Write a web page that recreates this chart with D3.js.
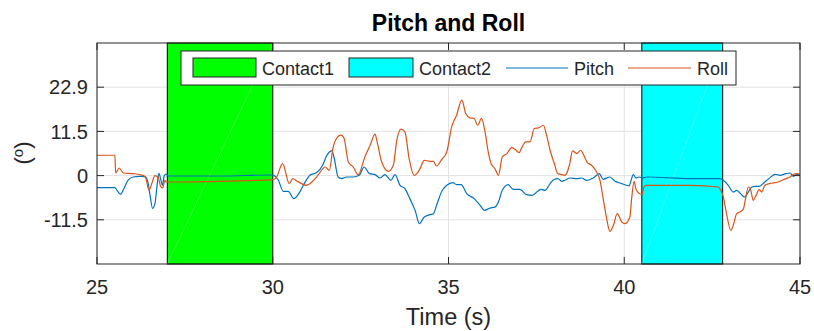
<!DOCTYPE html>
<html>
<head>
<meta charset="utf-8">
<script src="https://cdn.jsdelivr.net/npm/d3@7"></script>
<style>
  body { margin: 0; background: #fff; }
  text { font-family: "Liberation Sans", Arial, sans-serif; fill: #262626; }
</style>
</head>
<body>
<div id="chart"></div>
<script>
// pitch trace (time in s, angle in deg)
let pitchTime = [25.00, 25.51, 25.57, 25.67, 25.77, 25.88, 26.03, 26.22, 26.37, 26.45, 26.51, 26.58, 26.65, 26.71, 26.76, 26.82, 26.86, 26.91, 26.96, 27.03,
  28.50, 29.92, 30.02, 30.16, 30.30, 30.44, 30.60, 30.78, 30.87, 31.06, 31.25, 31.42, 31.53, 31.68, 31.74, 31.86, 31.96, 32.10, 32.29, 32.46,
  32.60, 32.75, 32.91, 33.05, 33.19, 33.36, 33.48, 33.62, 33.76, 33.90, 34.05, 34.17, 34.31, 34.47, 34.57, 34.66, 34.81, 34.95, 35.12, 35.23,
  35.36, 35.52, 35.73, 35.90, 36.02, 36.18, 36.32, 36.42, 36.53, 36.70, 36.84, 37.03, 37.22, 37.37, 37.54, 37.63, 37.75, 37.89, 38.01, 38.11,
  38.22, 38.31, 38.46, 38.65, 38.79, 38.93, 39.12, 39.29, 39.40, 39.59, 39.74, 39.93, 40.14, 40.18, 40.26, 40.33, 40.43, 40.52, 40.65, 41.87,
  42.72, 42.82, 42.96, 43.10, 43.20, 43.29, 43.42, 43.53, 43.63, 43.72, 43.84, 44.00, 44.15, 44.29, 44.43, 44.60, 44.72, 44.81, 44.92, 45.00]
let pitchVals = [-3.12, -3.12, -3.82, -4.86, -3.30, -1.22, -0.36, -0.18, -0.26, -1.74, -5.12, -8.49, -7.19, -2.52, 0.60, -1.22, -2.52, -0.18, 0.42, -0.10,
  -0.10, 0.16, 0.08, -1.22, -4.08, -4.08, -5.97, -4.08, -2.52, 0.08, 0.78, 2.68, 5.09, 6.39, 4.83, -0.36, -0.78, -0.36, -0.36, 0.08,
  2.23, 0.52, 0.26, -0.62, 0.26, -1.22, 0.26, -2.52, -3.38, -5.97, -9.01, -12.47, -10.75, -10.13, -9.87, -7.71, -4.08, -2.52, -1.82, -2.34,
  -2.34, -4.68, -5.97, -7.71, -9.01, -8.42, -8.16, -6.86, -3.82, -2.34, -3.56, -3.56, -4.94, -5.12, -4.08, -3.56, -3.82, -2.08, -0.96, -0.78,
  -1.48, -1.22, -0.62, -0.78, -0.62, -1.22, -0.62, 0.52, -0.96, -0.36, -1.48, -2.08, -2.70, -1.66, 0.26, -0.62, -0.36, -0.62, -0.36, -0.78,
  -0.78, -1.22, -2.52, -4.26, -3.82, -4.52, -5.56, -4.26, -2.96, -2.78, -2.78, -1.66, -0.52, 0.34, 0.08, 0.52, 0.68, -0.18, 0.34, 0.08]

// roll trace
let rollTime = [25.00, 25.51, 25.53, 25.63, 25.75, 26.03, 26.32, 26.39, 26.48, 26.56, 26.65, 26.74, 26.81, 26.87, 26.93, 26.96, 27.03, 28.50, 30.02, 30.11,
  30.28, 30.47, 30.57, 30.70, 30.82, 30.95, 31.06, 31.25, 31.34, 31.49, 31.61, 31.71, 31.80, 31.94, 32.03, 32.15, 32.29, 32.43, 32.62, 32.77,
  32.91, 32.97, 33.10, 33.29, 33.43, 33.53, 33.65, 33.76, 33.88, 34.02, 34.10, 34.19, 34.31, 34.47, 34.57, 34.66, 34.81, 34.95, 35.09, 35.23,
  35.38, 35.49, 35.61, 35.73, 35.83, 35.94, 36.04, 36.13, 36.21, 36.32, 36.42, 36.53, 36.66, 36.80, 36.89, 37.01, 37.08, 37.20, 37.32, 37.44,
  37.56, 37.70, 37.79, 37.89, 38.01, 38.11, 38.22, 38.31, 38.34, 38.44, 38.53, 38.65, 38.76, 38.85, 38.95, 39.07, 39.20, 39.31, 39.40, 39.50,
  39.59, 39.69, 39.80, 39.93, 40.02, 40.16, 40.21, 40.28, 40.33, 40.43, 40.50, 40.56, 40.62, 41.87, 42.67, 42.72, 42.82, 42.91, 43.03, 43.10,
  43.20, 43.29, 43.39, 43.46, 43.53, 43.60, 43.67, 43.75, 43.84, 43.91, 44.00, 44.13, 44.38, 44.60, 44.72, 44.81, 44.91, 45.00]
let rollVals = [5.27, 5.27, 0.68, 1.97, 0.68, 0.52, 0.00, -0.70, -3.82, -2.00, 0.00, -0.44, -2.78, -3.22, -1.22, -1.66, -1.66, -1.48, -1.04, -0.36,
  3.12, -2.08, -0.78, -1.48, -2.08, -2.52, -2.08, -0.36, 0.78, 2.23, 1.38, 7.01, 9.43, 10.47, 9.61, 3.53, 2.23, 0.26, 4.83, 7.87,
  10.73, 8.73, 3.53, 1.12, 2.68, 9.17, 12.03, 11.32, 4.42, 0.08, 0.52, 1.82, 3.97, 3.71, 3.71, 2.49, 4.23, 6.13, 12.62, 15.66,
  19.56, 16.10, 14.96, 14.81, 13.06, 14.81, 11.32, 6.13, 3.12, 1.82, 0.08, 4.83, 5.71, 7.27, 6.83, 5.97, 7.17, 8.73, 8.73, 12.21,
  12.36, 13.06, 10.47, 6.57, 3.12, 0.52, 0.26, 0.08, 0.26, 2.68, 6.39, 5.71, 6.57, 5.27, 3.38, 2.68, 1.12, -1.22, -5.97, -11.17,
  -14.47, -12.91, -9.87, -12.05, -12.47, -10.75, -5.97, -1.48, -3.38, -4.68, -4.94, -2.96, -2.52, -2.55, -2.95, -3.38, -5.56, -9.87, -14.21, -12.91,
  -9.87, -9.45, -8.57, -5.56, -2.96, -3.82, -6.42, -5.12, -3.64, -4.26, -2.52, -2.08, -1.66, -0.78, -0.36, 0.34, 0.52, 0.34]

// contact intervals
let contactNames = ["Contact1", "Contact2"]
let contactStart = [27.0, 40.5]
let contactEnd = [30.0, 42.8]
let contactColors = ["#00ff00", "#00ffff"]

let seriesNames = ["Pitch", "Roll"]
let seriesColors = ["#0072bd", "#d95319"]

let xTickVals = [25, 30, 35, 40, 45]
let yTickVals = [-11.459, 0, 11.459, 22.918]
let yLimits = [-22.918, 34.377]

let width = 814, height = 331
let margin = {left: 97, top: 43, right: 14, bottom: 67}
let plotW = width - margin.left - margin.right
let plotH = height - margin.top - margin.bottom

let svg = d3.select("#chart")
    .append("svg")
        .attr("width", width)
        .attr("height", height)

let g = svg.append("g")
    .attr("transform", `translate(${margin.left}, ${margin.top})`)

let x = d3.scaleLinear().domain([25, 45]).range([0, plotW])
let y = d3.scaleLinear().domain(yLimits).range([plotH, 0])

// grid
g.selectAll("line.gx").data(xTickVals).enter().append("line")
    .attr("x1", d => x(d)).attr("x2", d => x(d))
    .attr("y1", 0).attr("y2", plotH)
    .attr("stroke", "#e3e3e3").attr("stroke-width", 1)
g.selectAll("line.gy").data(yTickVals).enter().append("line")
    .attr("y1", d => y(d)).attr("y2", d => y(d))
    .attr("x1", 0).attr("x2", plotW)
    .attr("stroke", "#e3e3e3").attr("stroke-width", 1)

// contact patches
let contacts = contactNames.map((n, i) => ({name: n, s: contactStart[i], e: contactEnd[i], c: contactColors[i]}))
g.selectAll("rect.patch").data(contacts).enter().append("rect")
    .attr("x", d => x(d.s))
    .attr("width", d => x(d.e) - x(d.s))
    .attr("y", y(yLimits[1]))
    .attr("height", y(yLimits[0]) - y(yLimits[1]))
    .attr("fill", d => d.c)
    .attr("stroke", "#000")
    .attr("stroke-width", 1)
// faint seam the renderer leaves across each patch
g.selectAll("line.seam").data(contacts).enter().append("line")
    .attr("x1", d => x(d.s)).attr("y1", y(yLimits[0]))
    .attr("x2", d => x(d.e)).attr("y2", y(yLimits[1]))
    .attr("stroke", "#fff").attr("stroke-opacity", 0.35).attr("stroke-width", 0.6)

// lines
let line = d3.line()
    .x(d => x(d[0]))
    .y(d => y(d[1]))
    .curve(d3.curveMonotoneX)

let series = [
    d3.zip(pitchTime, pitchVals),
    d3.zip(rollTime, rollVals)
]
g.selectAll("path.trace").data(series).enter().append("path")
    .attr("d", line)
    .attr("fill", "none")
    .attr("stroke", (d, i) => seriesColors[i])
    .attr("stroke-width", 1.2)

// box and inward ticks
g.append("rect")
    .attr("x", 0).attr("y", 0)
    .attr("width", plotW).attr("height", plotH)
    .attr("fill", "none").attr("stroke", "#262626").attr("stroke-width", 1)

let tickLen = 7
xTickVals.forEach(function(t) {
    g.append("line").attr("x1", x(t)).attr("x2", x(t)).attr("y1", plotH).attr("y2", plotH - tickLen).attr("stroke", "#262626")
    g.append("line").attr("x1", x(t)).attr("x2", x(t)).attr("y1", 0).attr("y2", tickLen).attr("stroke", "#262626")
})
yTickVals.forEach(function(t) {
    g.append("line").attr("y1", y(t)).attr("y2", y(t)).attr("x1", 0).attr("x2", tickLen).attr("stroke", "#262626")
    g.append("line").attr("y1", y(t)).attr("y2", y(t)).attr("x1", plotW).attr("x2", plotW - tickLen).attr("stroke", "#262626")
})

// tick labels
g.selectAll("text.xt").data(xTickVals).enter().append("text")
    .attr("x", d => x(d))
    .attr("y", plotH + 30)
    .attr("text-anchor", "middle")
    .style("font-size", "20px")
    .text(d => d)
g.selectAll("text.yt").data(yTickVals).enter().append("text")
    .attr("x", -9)
    .attr("y", d => y(d))
    .attr("dy", "0.36em")
    .attr("text-anchor", "end")
    .style("font-size", "20px")
    .text(d => d === 0 ? "0" : d.toFixed(1))

// title and axis labels
svg.append("text")
    .attr("x", margin.left + plotW / 2)
    .attr("y", 31)
    .attr("text-anchor", "middle")
    .style("font-size", "23px")
    .style("font-weight", "bold")
    .style("fill", "#000")
    .text("Pitch and Roll")

svg.append("text")
    .attr("x", margin.left + plotW / 2)
    .attr("y", 325)
    .attr("text-anchor", "middle")
    .style("font-size", "23.5px")
    .text("Time (s)")

let ylab = svg.append("text")
    .attr("transform", `translate(30, 153) rotate(-90)`)
    .attr("text-anchor", "middle")
    .style("font-size", "22px")
ylab.append("tspan").text("(")
ylab.append("tspan").attr("dy", -7).style("font-size", "15px").text("o")
ylab.append("tspan").attr("dy", 7).text(")")

// legend
let leg = svg.append("g").attr("class", "legend")
leg.append("rect")
    .attr("x", 181).attr("y", 51)
    .attr("width", 555).attr("height", 34)
    .attr("fill", "#fff").attr("stroke", "#262626").attr("stroke-width", 1)

let legItems = [
    {label: contactNames[0], kind: "patch", color: contactColors[0], x0: 193, x1: 256},
    {label: contactNames[1], kind: "patch", color: contactColors[1], x0: 349, x1: 413},
    {label: seriesNames[0], kind: "line", color: seriesColors[0], x0: 506, x1: 568},
    {label: seriesNames[1], kind: "line", color: seriesColors[1], x0: 628, x1: 691}
]
let legCy = 68
legItems.forEach(function(d) {
    if (d.kind === "patch") {
        leg.append("rect")
            .attr("x", d.x0).attr("y", legCy - 10)
            .attr("width", d.x1 - d.x0).attr("height", 19)
            .attr("fill", d.color).attr("stroke", "#262626").attr("stroke-width", 1)
    } else {
        leg.append("line")
            .attr("x1", d.x0).attr("x2", d.x1)
            .attr("y1", legCy).attr("y2", legCy)
            .attr("stroke", d.color).attr("stroke-width", 1.1)
    }
    leg.append("text")
        .attr("x", d.x1 + 6)
        .attr("y", legCy + 7)
        .style("font-size", "18px")
        .text(d.label)
})
</script>
</body>
</html>
